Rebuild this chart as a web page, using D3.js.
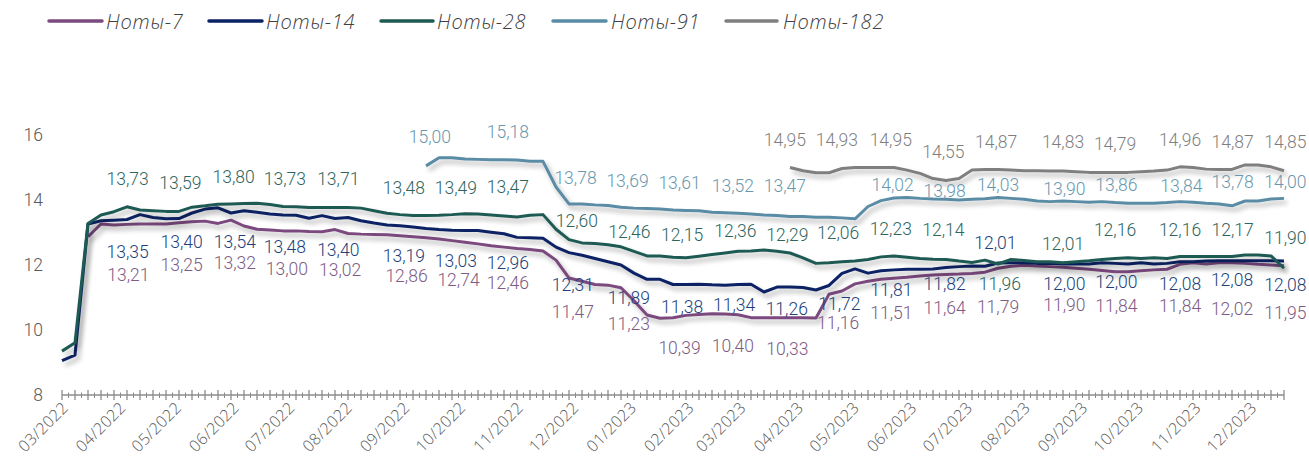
<!DOCTYPE html>
<html><head><meta charset="utf-8">
<script src="https://cdn.jsdelivr.net/npm/d3@7"></script>
<style>
html,body{margin:0;padding:0;background:#fff;}
svg{display:block;}
</style></head>
<body>
<svg id="chart" width="1309" height="461"></svg>
<script>
// ---------- DATA ----------
const startDate = "2022-03-03";   // first weekly observation
const weekCount = 95;             // weekly auction dates
const yTicks = [8, 10, 12, 14, 16];

const seriesNames = ["Ноты-7", "Ноты-14", "Ноты-28", "Ноты-91", "Ноты-182"];

// first week index for each series, then weekly yields (%)
const notes7Start = 2;
const notes7 = [12.87,13.26,13.23,13.25,13.26,13.26,13.26,13.3,13.33,13.35,13.28,13.38,
  13.2,13.1,13.08,13.05,13.05,13.03,13.02,13.09,12.97,12.95,
  12.94,12.93,12.9,12.87,12.84,12.8,12.75,12.7,12.65,12.59,12.55,12.51,12.48,12.43,
  12.15,11.6,11.5,11.4,11.38,11.3,10.9,10.46,10.36,10.38,
  10.45,10.48,10.5,10.49,10.47,10.38,10.38,10.38,10.38,10.38,10.37,
  11.1,11.2,11.42,11.5,11.56,11.59,11.62,11.66,11.69,11.71,11.72,11.74,
  11.78,11.9,11.96,11.99,11.97,11.95,11.93,11.9,11.87,11.83,11.79,11.79,
  11.82,11.85,11.87,12.02,12.07,12.03,12.07,12.07,12.05,12.02,12.0,11.98];

const notes14Start = 0;
const notes14 = [9.06,9.23,13.26,13.36,13.38,13.4,13.55,13.46,13.42,13.43,
  13.6,13.72,13.76,13.6,13.67,13.62,13.57,13.54,13.53,13.44,
  13.52,13.43,13.46,13.36,13.29,13.23,13.21,13.17,13.12,13.09,
  13.07,13.06,13.06,13.01,12.96,12.85,12.84,12.82,12.55,12.38,
  12.3,12.2,12.1,12.0,11.75,11.56,11.56,11.4,11.4,11.41,
  11.39,11.38,11.4,11.41,11.17,11.32,11.32,11.31,11.23,11.37,
  11.74,11.88,11.75,11.82,11.85,11.87,11.87,11.88,11.92,11.95,
  11.97,11.96,12.06,12.07,12.07,12.05,12.05,12.03,12.03,12.03,
  12.07,12.05,12.03,12.07,12.03,12.05,12.1,12.1,12.12,12.13,
  12.13,12.13,12.13,12.13,12.12];

const notes28Start = 0;
const notes28 = [9.35,9.61,13.28,13.54,13.64,13.79,13.69,13.67,13.65,13.65,
  13.78,13.82,13.87,13.88,13.89,13.9,13.86,13.8,13.79,13.77,
  13.77,13.77,13.77,13.75,13.67,13.59,13.55,13.52,13.52,13.53,
  13.55,13.58,13.57,13.54,13.51,13.48,13.53,13.55,13.1,12.78,
  12.68,12.66,12.62,12.56,12.42,12.28,12.28,12.24,12.22,12.27,
  12.32,12.37,12.42,12.43,12.46,12.42,12.37,12.22,12.05,12.07,
  12.1,12.12,12.17,12.25,12.28,12.24,12.2,12.18,12.17,12.12,
  12.08,12.15,12.03,12.17,12.14,12.1,12.1,12.07,12.1,12.13,
  12.17,12.2,12.22,12.2,12.22,12.2,12.26,12.26,12.26,12.26,
  12.26,12.31,12.31,12.28,11.9];

const notes91Start = 28;
const notes91 = [15.05,15.3,15.3,15.26,15.25,15.24,15.24,15.23,15.19,15.19,
  14.4,13.88,13.88,13.85,13.83,13.78,13.75,13.74,13.72,13.69,
  13.68,13.67,13.62,13.61,13.59,13.57,13.54,13.52,13.49,13.49,
  13.47,13.47,13.45,13.42,13.8,13.98,14.06,14.08,14.05,14.03,
  14.02,14.0,14.02,14.04,14.08,14.05,14.02,13.97,13.95,13.97,
  13.95,13.93,13.95,13.92,13.9,13.9,13.9,13.92,13.95,13.93,
  13.9,13.88,13.82,13.97,13.97,14.03,14.05];

const notes182Start = 56;
const notes182 = [15.0,14.9,14.84,14.84,14.97,15.0,15.0,15.0,15.0,14.92,
  14.82,14.66,14.6,14.66,14.92,14.94,14.94,14.92,14.9,14.9,
  14.89,14.89,14.87,14.85,14.85,14.85,14.85,14.87,14.89,14.92,
  15.02,15.0,14.95,14.94,14.94,15.08,15.08,15.02,14.9];

// data labels: value shown, week position, level (in % units) where the text sits
const labels7 = [13.21,13.25,13.32,13.00,13.02,12.86,12.74,12.46,11.47,11.23,10.39,10.40,10.33,11.16,11.51,11.64,11.79,11.90,11.84,11.84,12.02,11.95];
const labels7Week = [5.1,9.2,13.3,17.3,21.4,26.5,30.5,34.3,39.3,43.6,47.5,51.6,55.8,59.7,63.8,67.9,72.0,77.1,81.1,86.0,90.0,94.1];
const labels7Level = [11.69,12.02,12.06,11.9,11.87,11.67,11.56,11.45,10.56,10.18,9.47,9.51,9.41,10.22,10.53,10.70,10.72,10.77,10.74,10.74,10.67,10.53];

const labels14 = [13.35,13.40,13.54,13.48,13.40,13.19,13.03,12.96,12.31,11.89,11.38,11.34,11.26,11.72,11.81,11.82,12.01,12.00,12.00,12.08,12.08,12.08];
const labels14Week = [5.05,9.2,13.3,17.15,21.25,26.3,30.3,34.3,39.3,43.6,47.7,51.7,55.75,59.8,63.8,67.9,71.8,77.1,81.1,86.0,90.0,94.1];
const labels14Level = [12.42,12.72,12.72,12.55,12.48,12.28,12.13,12.08,11.38,10.98,10.72,10.77,10.67,10.80,11.23,11.44,12.69,11.42,11.49,11.42,11.56,11.38];

const labels28 = [13.73,13.59,13.80,13.73,13.71,13.48,13.49,13.47,12.60,12.46,12.15,12.36,12.29,12.06,12.23,12.14,11.96,12.01,12.16,12.16,12.17,11.90];
const labels28Week = [5.05,9.1,13.2,17.15,21.25,26.3,30.3,34.3,39.6,43.65,47.7,51.8,55.8,59.7,63.75,67.8,72.15,77.0,81.0,86.0,90.05,94.1];
const labels28Level = [14.67,14.53,14.72,14.66,14.65,14.39,14.39,14.41,13.37,13.02,12.92,13.05,12.92,12.98,13.13,13.08,11.44,12.65,13.08,13.08,13.10,12.85];

const labels91 = [15.00,15.18,13.78,13.69,13.61,13.52,13.47,14.02,13.98,14.03,13.90,13.86,13.84,13.78,14.00];
const labels91Week = [28.3,34.3,39.5,43.5,47.5,51.6,55.6,63.9,67.9,72.0,77.1,81.1,86.1,90.05,94.1];
const labels91Level = [15.95,16.10,14.69,14.58,14.54,14.43,14.43,14.46,14.29,14.46,14.36,14.46,14.43,14.56,14.56];

const labels182 = [14.95,14.93,14.95,14.55,14.87,14.83,14.79,14.96,14.87,14.85];
const labels182Week = [55.6,59.6,63.75,67.8,71.85,77.0,81.0,86.0,90.05,94.1];
const labels182Level = [15.87,15.87,15.87,15.49,15.79,15.79,15.74,15.87,15.79,15.79];

// ---------- BUILD ----------
const t0 = d3.timeParse("%Y-%m-%d")(startDate);
const dates = d3.range(weekCount).map(i => d3.timeDay.offset(t0, 7 * i));

const series = [
  {name: seriesNames[0], start: notes7Start, vals: notes7, color: "#7b4a7f", lab: "#7d5b85",
   lv: labels7, lw: labels7Week, ll: labels7Level},
  {name: seriesNames[1], start: notes14Start, vals: notes14, color: "#0b2265", lab: "#213f7a",
   lv: labels14, lw: labels14Week, ll: labels14Level},
  {name: seriesNames[2], start: notes28Start, vals: notes28, color: "#1f5a52", lab: "#2e655d",
   lv: labels28, lw: labels28Week, ll: labels28Level},
  {name: seriesNames[3], start: notes91Start, vals: notes91, color: "#5a8ca5", lab: "#6998ae",
   lv: labels91, lw: labels91Week, ll: labels91Level},
  {name: seriesNames[4], start: notes182Start, vals: notes182, color: "#7f7f7f", lab: "#7f7f7f",
   lv: labels182, lw: labels182Week, ll: labels182Level}
];

const svg = d3.select("#chart");
const x = d3.scaleTime().domain([dates[0], dates[weekCount - 1]]).range([62, 1284]);
const y = d3.scaleLinear().domain([8, 16]).range([395, 135]);
const weekX = w => x(d3.timeHour.offset(t0, Math.round(w * 7 * 24)));

// shadow filter
const defs = svg.append("defs");
const f = defs.append("filter").attr("id", "shadow")
  .attr("x", "-5%").attr("y", "-20%").attr("width", "115%").attr("height", "160%");
f.append("feGaussianBlur").attr("in", "SourceAlpha").attr("stdDeviation", 2.6).attr("result", "b");
f.append("feOffset").attr("in", "b").attr("dx", 3).attr("dy", 4).attr("result", "o");
f.append("feComponentTransfer").attr("in", "o").attr("result", "s")
  .append("feFuncA").attr("type", "linear").attr("slope", 0.3);
const m = f.append("feMerge");
m.append("feMergeNode").attr("in", "s");
m.append("feMergeNode").attr("in", "SourceGraphic");

// y axis labels (no line)
svg.append("g").selectAll("text").data(yTicks).join("text")
  .attr("x", 43).attr("y", d => y(d)).attr("dy", "0.35em")
  .attr("text-anchor", "end")
  .attr("font-family", "Roboto, sans-serif").attr("font-size", 17.5).attr("font-weight", 300)
  .attr("fill", "#595959").text(d => d);

// x axis
const xa = svg.append("g");
xa.append("line").attr("x1", x(dates[0])).attr("x2", x(dates[weekCount - 1]))
  .attr("y1", y(8)).attr("y2", y(8)).attr("stroke", "#8c8c8c").attr("stroke-width", 1.5);
xa.selectAll("line.maj").data(dates).join("line").attr("class", "maj")
  .attr("x1", d => x(d)).attr("x2", d => x(d))
  .attr("y1", y(8) - 5).attr("y2", y(8) + 5)
  .attr("stroke", "#8c8c8c").attr("stroke-width", 1.3);
xa.selectAll("line.min").data(dates.slice(0, -1)).join("line").attr("class", "min")
  .attr("x1", d => x(d3.timeHour.offset(d, 84))).attr("x2", d => x(d3.timeHour.offset(d, 84)))
  .attr("y1", y(8) - 2.5).attr("y2", y(8) + 3)
  .attr("stroke", "#8c8c8c").attr("stroke-width", 1);

const months = d3.timeMonth.range(new Date(2022, 2, 1), new Date(2023, 11, 2));
const fmt = d3.timeFormat("%m/%Y");
xa.selectAll("text").data(months).join("text")
  .attr("transform", d => `translate(${x(d) + 4},${y(8) + 7}) rotate(-45)`)
  .attr("text-anchor", "end").attr("dy", "0.6em")
  .attr("font-family", "'Open Sans', sans-serif").attr("font-size", 16).attr("font-weight", 300)
  .attr("letter-spacing", 0.3)
  .attr("fill", "#595959").text(d => fmt(d));

// lines
const line = d3.line().x(d => x(d.date)).y(d => y(d.v));
series.forEach(s => {
  const pts = s.vals.map((v, i) => ({date: dates[s.start + i], v}));
  svg.append("path").datum(pts)
    .attr("d", line).attr("fill", "none")
    .attr("stroke", s.color).attr("stroke-width", 3)
    .attr("stroke-linejoin", "round")
    .attr("filter", "url(#shadow)");
});

// data labels
const fmtNum = v => v.toFixed(2).replace(".", ",");
series.forEach(s => {
  svg.append("g").selectAll("text").data(s.lv).join("text")
    .attr("x", (d, i) => weekX(s.lw[i]))
    .attr("y", (d, i) => y(s.ll[i]))
    .attr("dy", "0.36em").attr("text-anchor", "middle")
    .attr("font-family", "Roboto, sans-serif").attr("font-size", 17.5).attr("font-weight", 300)
    .attr("fill", s.lab).text(d => fmtNum(d));
});

// legend
const legendPos = [[49, 102, 106], [209, 262, 266], [381, 433, 437], [553, 606, 611], [726, 777, 783]];
const lg = svg.append("g");
series.forEach((s, i) => {
  const p = legendPos[i];
  lg.append("line").attr("x1", p[0]).attr("x2", p[1]).attr("y1", 21).attr("y2", 21)
    .attr("stroke", s.color).attr("stroke-width", 3.5).attr("stroke-linecap", "round");
  lg.append("text").attr("x", p[2]).attr("y", 28.5)
    .attr("font-family", "'Open Sans', sans-serif").attr("font-style", "italic").attr("font-weight", 300)
    .attr("font-size", 20).attr("letter-spacing", 0.8)
    .attr("fill", "#404040").text(s.name);
});
</script>
</body></html>
